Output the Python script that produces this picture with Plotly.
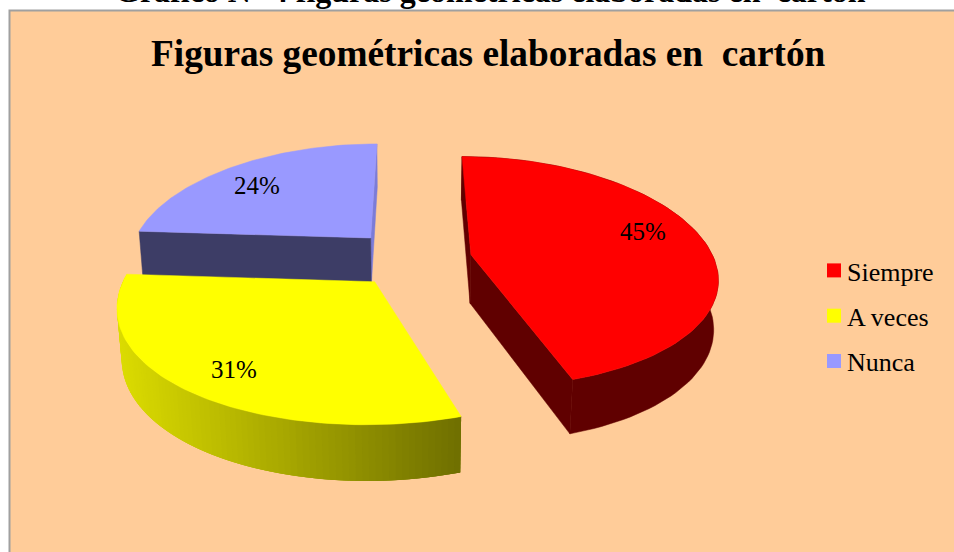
import numpy as np
import plotly.graph_objects as go

# Data
categories = ["Siempre", "A veces", "Nunca"]
percent = [45, 31, 24]
top_colors = ["#FF0000", "#FFFF00", "#9999FF"]
title = "Figuras geométricas elaboradas en\u00a0\u00a0cartón"
page_heading = "Gráfico N° 4 figuras geométricas elaboradas en\u00a0\u00a0cartón"

# Styling / projection
CX, CY, R, Q, P, PX, H, K = 412.5, 259, 243, 114, 0.15, 0.18, 49.5, 0.015
EXPLODE = [0.245, 0.245, 0.26]
WALL_RED = "#600000"
WALL_BLUE = "#3D3D66"
SIDE_BLUE = "#7C7CD8"
GRAD_LEFT = (220, 220, 0)
GRAD_RIGHT = (110, 110, 0)
LABEL_POS = [(643, 231), (234, 369), (257, 185)]


def project(X, Y, z=0.0):
    X, Y = np.asarray(X, float), np.asarray(Y, float)
    s = 1 / (1 + P * Y + K * z)
    sx = 1 / (1 + PX * Y + K * z)
    return CX + R * X * sx, CY + (-Q * Y + H * z) * s


fractions = np.array(percent) / sum(percent)
edges = np.concatenate([[0], np.cumsum(fractions)]) * 2 * np.pi

slices = []
for i in range(len(percent)):
    a0, a1 = edges[i], edges[i + 1]
    m = (a0 + a1) / 2
    slices.append(dict(a=np.linspace(a0, a1, 90), ox=EXPLODE[i] * np.sin(m), oy=EXPLODE[i] * np.cos(m)))


def rim(sl, z=0.0):
    return project(sl["ox"] + np.sin(sl["a"]), sl["oy"] + np.cos(sl["a"]), z)


def poly(fig, x, y, color, lw=0.5):
    fig.add_trace(go.Scatter(x=list(x), y=list(y), mode="lines", fill="toself", fillcolor=color,
                             line=dict(color=color, width=lw), hoverinfo="skip", showlegend=False))


def cut_wall(fig, sl, idx, color):
    ax, ay = project(sl["ox"], sl["oy"], 0)
    bx, by = project(sl["ox"], sl["oy"], 1)
    tx, ty = rim(sl, 0)
    ux, uy = rim(sl, 1)
    poly(fig, [ax, tx[idx], ux[idx], bx, ax], [ay, ty[idx], uy[idx], by, ay], color)


def top(fig, sl, color):
    ax, ay = project(sl["ox"], sl["oy"], 0)
    tx, ty = rim(sl, 0)
    poly(fig, np.r_[ax, tx, ax], np.r_[ay, ty, ay], color)


fig = go.Figure()

# Nunca (back)
blue = slices[2]
cut_wall(fig, blue, -1, SIDE_BLUE)
cut_wall(fig, blue, 0, WALL_BLUE)
top(fig, blue, top_colors[2])

# A veces: outer wall with a left-to-right shade (strips overlap so no seams show)
yel = slices[1]
tx, ty = rim(yel, 0)
ux, uy = rim(yel, 1)
xmin, xmax = tx.min(), tx.max()
for j in range(len(tx) - 1, 0, -1):
    k2 = max(j - 3, 0)
    t = (tx[j] - xmin) / (xmax - xmin)
    c = [int(GRAD_LEFT[k] + (GRAD_RIGHT[k] - GRAD_LEFT[k]) * t) for k in range(3)]
    col = f"rgb({c[0]},{c[1]},{c[2]})"
    poly(fig, [tx[j], tx[k2], ux[k2], ux[j], tx[j]], [ty[j], ty[k2], uy[k2], uy[j], ty[j]], col, lw=0)
top(fig, yel, top_colors[1])

# Siempre
red = slices[0]
tx, ty = rim(red, 0)
ux, uy = rim(red, 1)
poly(fig, np.r_[tx, ux[::-1], tx[0]], np.r_[ty, uy[::-1], ty[0]], WALL_RED)
cut_wall(fig, red, 0, WALL_RED)
cut_wall(fig, red, -1, WALL_RED)
top(fig, red, top_colors[0])

# Legend entries
for i, name in enumerate(categories):
    fig.add_trace(go.Scatter(x=[None], y=[None], mode="markers", name=name, legendgroup=name,
                             marker=dict(symbol="square", size=14, color=top_colors[i]), hoverinfo="skip"))

SERIF = "Liberation Serif, Times New Roman, serif"
annotations = [
    dict(text=f"{v}%", x=p[0], y=p[1], xref="x", yref="y", showarrow=False,
         font=dict(family=SERIF, size=25, color="#000000"))
    for v, p in zip(percent, LABEL_POS)
]
annotations.append(dict(text=f"<b>{title}</b>", x=488.5, y=53.5, xref="x", yref="y", showarrow=False,
                        font=dict(family=SERIF, size=37.3, color="#000000")))
annotations.append(dict(text=f"<b>{page_heading}</b>", x=490, y=11, xref="x", yref="y", yanchor="bottom",
                        showarrow=False, font=dict(family=SERIF, size=32, color="#000000")))

fig.update_layout(
    width=954, height=552, margin=dict(l=0, r=0, t=0, b=0), autosize=False,
    paper_bgcolor="#FFFFFF", plot_bgcolor="#FFFFFF",
    xaxis=dict(range=[0, 954], visible=False, fixedrange=True),
    yaxis=dict(range=[552, 0], visible=False, fixedrange=True),
    shapes=[dict(type="rect", x0=9.5, x1=960, y0=10.5, y1=560, xref="x", yref="y", layer="below",
                 fillcolor="#FFCC99", line=dict(color="#A0A0A0", width=2))],
    annotations=annotations,
    legend=dict(x=814 / 954, y=1 - 247 / 552, xanchor="left", yanchor="top", bgcolor="rgba(0,0,0,0)",
                tracegroupgap=8.5, font=dict(family=SERIF, size=26, color="#000000")),
    showlegend=True,
)

post = """
document.documentElement.style.overflow='hidden';
document.body.style.margin='0';
document.body.style.overflow='hidden';
document.querySelectorAll('.legendtext').forEach(function(t){t.setAttribute('x','33');});
"""
fig.write_html("out.html", post_script=post, config={"displayModeBar": False})
